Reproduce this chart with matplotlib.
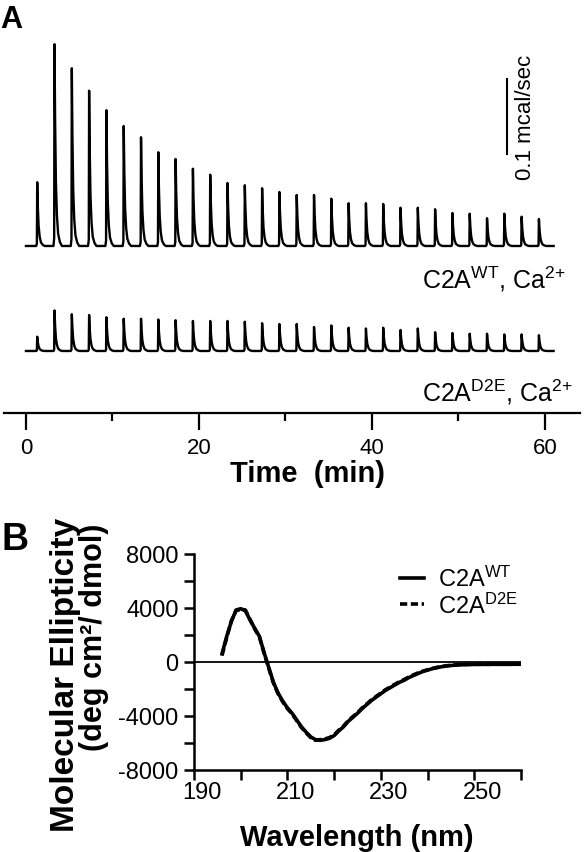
import matplotlib
matplotlib.use("Agg")
import matplotlib.pyplot as plt
import matplotlib.transforms as mtransforms
from matplotlib.ticker import FixedLocator

plt.rcParams['font.family'] = ['Liberation Sans', 'DejaVu Sans']
plt.rcParams['mathtext.fontset'] = 'custom'
plt.rcParams['mathtext.rm'] = 'Liberation Sans'
plt.rcParams['mathtext.it'] = 'Liberation Sans:italic'
plt.rcParams['mathtext.bf'] = 'Liberation Sans:bold'
plt.rcParams['axes.unicode_minus'] = False

# ---- panel A: ITC injections (min, mcal/sec) ----
inj_times = [1.3, 3.3, 5.3, 7.3, 9.3, 11.3, 13.3, 15.3, 17.3, 19.3,
             21.3, 23.3, 25.3, 27.3, 29.3, 31.3, 33.3, 35.3, 37.3, 39.3,
             41.3, 43.3, 45.3, 47.3, 49.3, 51.3, 53.3, 55.3, 57.3, 59.3]
peaks_wt = [0.085, 0.269, 0.237, 0.207, 0.181, 0.160, 0.145, 0.125, 0.116, 0.103,
            0.095, 0.084, 0.081, 0.077, 0.072, 0.068, 0.068, 0.063, 0.057, 0.057,
            0.056, 0.051, 0.051, 0.049, 0.044, 0.043, 0.037, 0.043, 0.039, 0.036]
peaks_d2e = [0.019, 0.054, 0.049, 0.048, 0.045, 0.043, 0.043, 0.042, 0.041, 0.040,
             0.040, 0.040, 0.039, 0.037, 0.036, 0.036, 0.032, 0.034, 0.031, 0.030,
             0.031, 0.028, 0.030, 0.025, 0.024, 0.023, 0.023, 0.022, 0.022, 0.021]
run_end = 61.0

# shape of one injection peak (time offset in min, fraction of height)
kern_t = [-0.12, -0.04, 0.0, 0.07, 0.16, 0.28, 0.42, 0.62, 0.85]
kern_f = [0.0, 0.04, 1.0, 0.62, 0.32, 0.15, 0.06, 0.02, 0.0]

# ---- panel B: CD spectra ----
wavelength = list(range(196, 261))
cd_wt = [600, 1900, 3000, 3850, 3950, 3800, 3100, 2500, 1900, 700,
         -400, -1500, -2300, -2900, -3400, -3800, -4300, -4800, -5200, -5550,
         -5750, -5800, -5750, -5650, -5450, -5100, -4800, -4400, -4100, -3800,
         -3450, -3150, -2850, -2600, -2350, -2100, -1900, -1700, -1500, -1350,
         -1150, -1000, -850, -700, -600, -500, -420, -350, -300, -260,
         -230, -210, -200, -190, -180, -180, -175, -180, -170, -175,
         -170, -175, -170, -165, -170]
cd_d2e = [500, 1800, 3050, 3800, 3900, 3850, 3150, 2450, 1850, 650,
          -450, -1550, -2350, -2950, -3450, -3850, -4350, -4850, -5250, -5600,
          -5800, -5750, -5700, -5600, -5400, -5050, -4750, -4350, -4050, -3750,
          -3400, -3100, -2800, -2550, -2300, -2050, -1850, -1650, -1450, -1300,
          -1100, -950, -800, -680, -580, -480, -400, -330, -280, -240,
          -210, -190, -180, -170, -160, -165, -160, -165, -155, -160,
          -155, -160, -155, -150, -155]

W, H = 586, 853
fig = plt.figure(figsize=(W / 100, H / 100), dpi=100)


def fx(px):
    return px / W


def fy(py):
    return 1 - py / H


def build_trace(times, heights, t_end):
    t = [0.0]
    y = [0.0]
    for ti, hi in zip(times, heights):
        for dt, f in zip(kern_t, kern_f):
            t.append(ti + dt)
            y.append(hi * f)
    t.append(t_end)
    y.append(0.0)
    return t, y


# panel A
ax_a = fig.add_axes([fx(4), fy(414), fx(576), (414 - 30) / H])
wt_offset = 0.14
t1, y1 = build_trace(inj_times, peaks_wt, run_end)
t2, y2 = build_trace(inj_times, peaks_d2e, run_end)
ax_a.plot(t1, [v + wt_offset for v in y1], color='black', lw=1.7)
ax_a.plot(t2, y2, color='black', lw=1.7)
ax_a.set_xlim(-2.54, 64.05)
ax_a.set_ylim(-0.0827, 0.4293)

# scale bar
sb_x, sb_y0 = 55.6, 0.2627
ax_a.plot([sb_x, sb_x], [sb_y0, sb_y0 + 0.1], color='black', lw=1.5)
ax_a.text(57.7, sb_y0 + 0.05, '0.1 mcal/sec', rotation=90, ha='center',
          va='center', fontsize=16)

for s in ['left', 'right', 'top']:
    ax_a.spines[s].set_visible(False)
ax_a.spines['bottom'].set_linewidth(1.6)
ax_a.set_yticks([])
ax_a.set_xticks([0, 20, 40, 60])
ax_a.xaxis.set_minor_locator(FixedLocator([10, 30, 50]))
ax_a.tick_params(axis='x', which='major', length=12, width=1.6, labelsize=16, pad=5)
ax_a.tick_params(axis='x', which='minor', length=6, width=1.6)

fig.text(fx(422), fy(288), r'C2A$^{\mathrm{WT}}$, Ca$^{\text{2+}}$', fontsize=18,
         va='baseline', ha='left')
fig.text(fx(422), fy(402), r'C2A$^{\mathrm{D2E}}$, Ca$^{\text{2+}}$', fontsize=18,
         va='baseline', ha='left')
fig.text(fx(307), fy(474), 'Time  (min)', fontsize=21, fontweight='bold',
         ha='center', va='center')
fig.text(fx(0), fy(5), 'A', fontsize=22, fontweight='bold', va='top', ha='left')

# panel B
ax_b = fig.add_axes([fx(194), fy(771), fx(327), (771 - 555) / H])
ax_b.axhline(0, color='black', lw=1.3)
ax_b.plot(wavelength, cd_wt, color='black', lw=2.6, label=r'C2A$^{\mathrm{WT}}$')
ax_b.plot(wavelength, cd_d2e, color='black', lw=2.6, linestyle=(0, (2, 1)),
          label=r'C2A$^{\mathrm{D2E}}$')
ax_b.set_xlim(190, 260)
ax_b.set_ylim(-8000, 8000)
for s in ['right', 'top']:
    ax_b.spines[s].set_visible(False)
for s in ['left', 'bottom']:
    ax_b.spines[s].set_linewidth(1.8)
ax_b.set_xticks([190, 210, 230, 250])
ax_b.xaxis.set_minor_locator(FixedLocator([200, 220, 240, 260]))
ax_b.set_yticks([-8000, -4000, 0, 4000, 8000])
ax_b.yaxis.set_minor_locator(FixedLocator([-6000, -2000, 2000, 6000]))
ax_b.tick_params(which='both', length=7, width=1.8, labelsize=17)
ax_b.tick_params(axis='x', which='both', pad=1)
ax_b.tick_params(axis='y', which='both', pad=4)
shift = mtransforms.ScaledTranslation(8 / 100, 0, fig.dpi_scale_trans)
for lab in ax_b.get_xticklabels():
    lab.set_transform(lab.get_transform() + shift)

ax_b.legend(loc='upper left', bbox_to_anchor=(fx(400), fy(567)),
            bbox_transform=fig.transFigure, frameon=False, fontsize=17,
            handlelength=1.0, handletextpad=0.6, labelspacing=0.05,
            borderpad=0, borderaxespad=0)

fig.text(fx(66), fy(518), 'Molecular Ellipticity', rotation=90, fontsize=24,
         fontweight='bold', ha='center', va='top')
fig.text(fx(94), fy(524), '(deg cm²/ dmol)', rotation=90, fontsize=22,
         fontweight='bold', ha='center', va='top')
fig.text(fx(357), fy(838), 'Wavelength (nm)', fontsize=21, fontweight='bold',
         ha='center', va='center')
fig.text(fx(2), fy(522), 'B', fontsize=27, fontweight='bold', va='top', ha='left')

fig.savefig('out.png', dpi=100)
